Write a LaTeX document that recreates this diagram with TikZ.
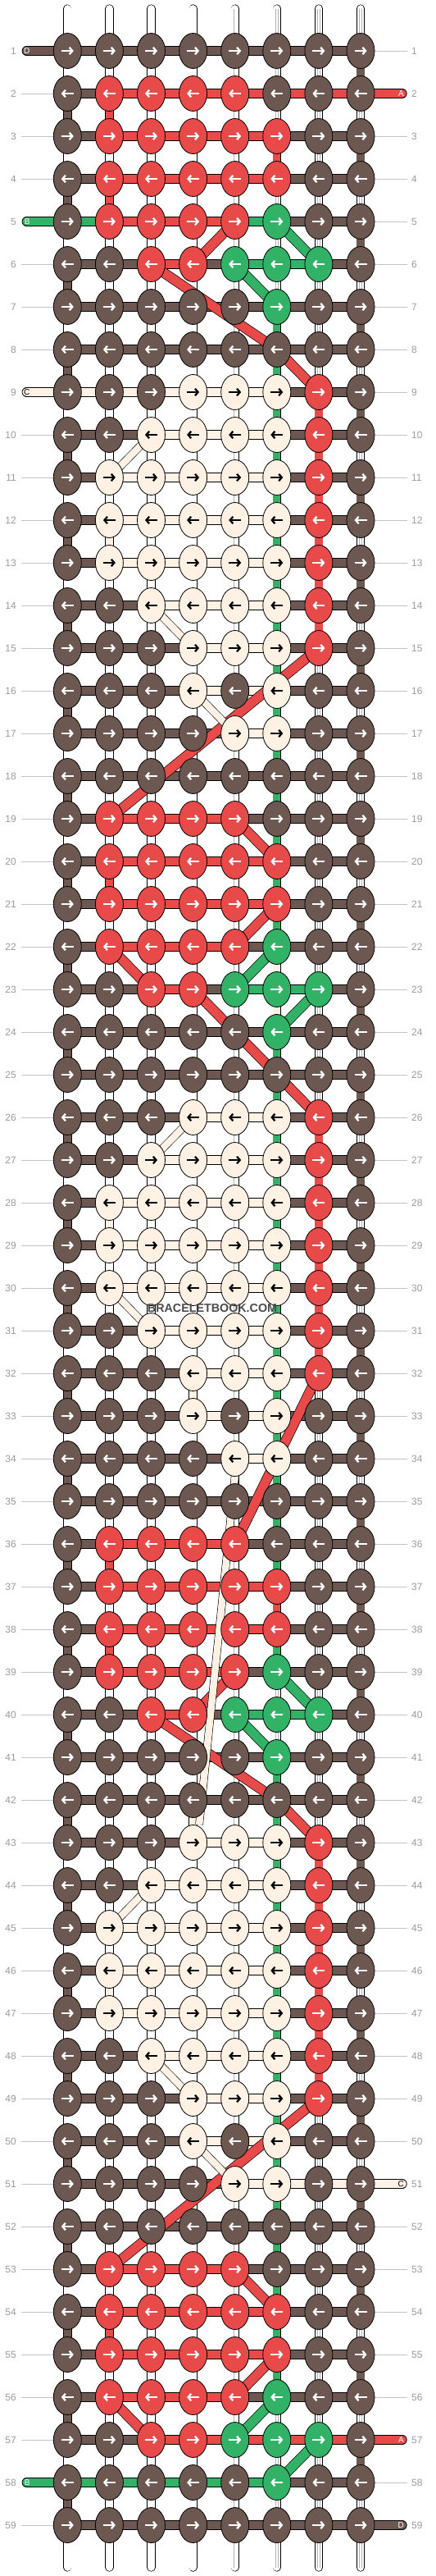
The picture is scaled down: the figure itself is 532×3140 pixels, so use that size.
\documentclass[tikz,border=0pt]{standalone}
\usepackage{fontspec}
\setmainfont{Liberation Sans}
\usetikzlibrary{shapes.geometric,arrows.meta}
\definecolor{B}{HTML}{6C5850}
\definecolor{R}{HTML}{E84A4A}
\definecolor{G}{HTML}{32B266}
\definecolor{C}{HTML}{FFF1E4}
\definecolor{aB}{HTML}{FFFFFF}
\definecolor{aR}{HTML}{FFFFFF}
\definecolor{aG}{HTML}{FFFFFF}
\definecolor{aC}{HTML}{000000}
\definecolor{lblgray}{HTML}{9A9A9A}
\definecolor{linegray}{HTML}{C4C4C4}
\definecolor{wmgray}{HTML}{4A4A4A}
\pgfdeclarelayer{strands}
\pgfdeclarelayer{vsegs}
\pgfdeclarelayer{hsegs}
\pgfdeclarelayer{diags}
\pgfsetlayers{strands,vsegs,hsegs,diags,main}
\tikzset{
  knot/.style={ellipse, draw=black, line width=0.8pt, minimum width=34pt, minimum height=43pt, inner sep=0pt},
  arr/.style={line width=2.3pt, -{Straight Barb[length=3.6pt,width=8.5pt]}},
  seg/.style={draw=black, line width=0.7pt, double distance=10.3pt},
  vseg/.style={draw=black, line width=0.7pt, double distance=9.2pt},
  vB/.style={vseg, double=B}, vR/.style={vseg, double=R}, vG/.style={vseg, double=G}, vC/.style={vseg, double=C}, vW/.style={},
  strand/.style={draw=black, line width=0.7pt, double=white, double distance=8.8pt, line cap=round},
  strandin/.style={draw=black!30, line width=0.5pt, double=white, double distance=2.4pt},
  dgR/.style={draw=black, line width=0.7pt, double=R, double distance=11pt},
  dgG/.style={draw=black, line width=0.7pt, double=G, double distance=11pt},
  dgC/.style={draw=black, line width=0.6pt, double=C, double distance=8.5pt},
  lbl/.style={text=lblgray, font=\fontsize{12}{14}\selectfont, inner sep=0pt},
  gline/.style={draw=linegray, line width=0.9pt},
  tab/.style={seg, line cap=round},
  tablbl/.style={font=\fontsize{10}{12}\selectfont, inner sep=0pt},
}
\begin{document}
\begin{tikzpicture}[x=1pt,y=-1pt]
\useasboundingbox (0,0) rectangle (532,3140);
% ---------------- knots
\foreach \ri/\cols in {
1/{B,B,B,B,B,B,B,B},
2/{B,R,R,R,R,B,B,B},
3/{B,R,R,R,R,R,B,B},
4/{B,R,R,R,R,R,B,B},
5/{B,R,R,R,R,G,B,B},
6/{B,B,R,R,G,G,G,B},
7/{B,B,B,B,B,G,B,B},
8/{B,B,B,B,B,B,B,B},
9/{B,B,B,C,C,C,R,B},
10/{B,B,C,C,C,C,R,B},
11/{B,C,C,C,C,C,R,B},
12/{B,C,C,C,C,C,R,B},
13/{B,C,C,C,C,C,R,B},
14/{B,B,C,C,C,C,R,B},
15/{B,B,B,C,C,C,R,B},
16/{B,B,B,C,B,C,B,B},
17/{B,B,B,B,C,C,B,B},
18/{B,B,B,B,B,B,B,B},
19/{B,R,R,R,R,B,B,B},
20/{B,R,R,R,R,R,B,B},
21/{B,R,R,R,R,R,B,B},
22/{B,R,R,R,R,G,B,B},
23/{B,B,R,R,G,G,G,B},
24/{B,B,B,B,B,G,B,B},
25/{B,B,B,B,B,B,B,B},
26/{B,B,B,C,C,C,R,B},
27/{B,B,C,C,C,C,R,B},
28/{B,C,C,C,C,C,R,B},
29/{B,C,C,C,C,C,R,B},
30/{B,C,C,C,C,C,R,B},
31/{B,B,C,C,C,C,R,B},
32/{B,B,B,C,C,C,R,B},
33/{B,B,B,C,B,C,B,B},
34/{B,B,B,B,C,C,B,B},
35/{B,B,B,B,B,B,B,B},
36/{B,R,R,R,R,B,B,B},
37/{B,R,R,R,R,R,B,B},
38/{B,R,R,R,R,R,B,B},
39/{B,R,R,R,R,G,B,B},
40/{B,B,R,R,G,G,G,B},
41/{B,B,B,B,B,G,B,B},
42/{B,B,B,B,B,B,B,B},
43/{B,B,B,C,C,C,R,B},
44/{B,B,C,C,C,C,R,B},
45/{B,C,C,C,C,C,R,B},
46/{B,C,C,C,C,C,R,B},
47/{B,C,C,C,C,C,R,B},
48/{B,B,C,C,C,C,R,B},
49/{B,B,B,C,C,C,R,B},
50/{B,B,B,C,B,C,B,B},
51/{B,B,B,B,C,C,B,B},
52/{B,B,B,B,B,B,B,B},
53/{B,R,R,R,R,B,B,B},
54/{B,R,R,R,R,R,B,B},
55/{B,R,R,R,R,R,B,B},
56/{B,R,R,R,R,G,B,B},
57/{B,B,R,R,G,G,G,B},
58/{B,B,B,B,B,G,B,B},
59/{B,B,B,B,B,B,B,B}}{
  \pgfmathsetmacro\yy{62+52*(\ri-1)}
  \pgfmathsetmacro\sg{1-2*mod(\ri+1,2)}
  \foreach \kk [count=\ci] in \cols {
    \pgfmathsetmacro\xx{82.3+51.1*(\ci-1)}
    \node[knot, fill=\kk] (k\ri-\ci) at (\xx,\yy) {};
    \draw[arr, draw=a\kk] ([xshift={-7.5*\sg}]k\ri-\ci.center) -- ([xshift={7.5*\sg}]k\ri-\ci.center);
  }
  \node[lbl, anchor=east] (ll\ri) at (20,\yy) {\ri};
  \node[lbl, anchor=west] (lr\ri) at (502,\yy) {\ri};
  \coordinate (gl\ri) at (26,\yy);
  \coordinate (gr\ri) at (497,\yy);
}
% ---------------- strands and grey lines
\begin{pgfonlayer}{strands}
\foreach \ci in {1,...,8}{
  \pgfmathsetmacro\xx{82.3+51.1*(\ci-1)}
  \coordinate (top\ci) at (\xx,10.5);
  \coordinate (bot\ci) at (\xx,3129.5);
  \draw[strand] (top\ci) -- (bot\ci);
  \draw[strandin] (top\ci) -- (bot\ci);
}
\foreach \ri in {2,3,4,6,7,8,10,11,...,57,59}{
  \draw[gline] (gl\ri) -- (k\ri-1.center);
}
\foreach \ri in {1,3,4,...,50,52,53,...,56,58}{
  \draw[gline] (k\ri-8.center) -- (gr\ri);
}
\end{pgfonlayer}
% ---------------- vertical coloured segments
\begin{pgfonlayer}{vsegs}
\foreach \ri/\cols in {
1/{W,W,W,W,W,W,W,B},
2/{B,R,W,W,W,W,W,W},
3/{W,W,W,W,W,R,W,B},
4/{B,R,W,W,W,W,W,W},
5/{W,W,W,W,W,W,W,B},
6/{B,W,W,W,W,W,W,W},
7/{W,W,W,W,W,G,W,B},
8/{B,W,W,W,W,G,W,W},
9/{W,W,W,W,W,G,R,B},
10/{B,W,W,W,W,G,R,W},
11/{W,W,W,W,W,G,R,B},
12/{B,C,W,W,W,G,R,W},
13/{W,W,W,W,W,G,R,B},
14/{B,W,W,W,W,G,R,W},
15/{W,W,W,W,W,G,W,B},
16/{B,W,W,W,W,G,W,W},
17/{W,W,W,W,W,G,W,B},
18/{B,W,W,W,W,G,W,W},
19/{W,W,W,W,W,G,W,B},
20/{B,R,W,W,W,G,W,W},
21/{W,W,W,W,W,G,W,B},
22/{B,W,W,W,W,C,W,W},
23/{W,W,W,W,W,C,W,B},
24/{B,W,W,W,W,G,W,W},
25/{W,W,W,W,W,G,W,B},
26/{B,W,W,W,W,G,R,W},
27/{W,W,W,W,W,G,R,B},
28/{B,C,W,W,W,G,R,W},
29/{W,W,W,W,W,G,R,B},
30/{B,W,W,W,W,G,R,W},
31/{W,W,W,W,W,G,R,B},
32/{B,W,W,C,W,G,W,W},
33/{W,W,W,W,W,G,W,B},
34/{B,W,W,W,W,G,W,W},
35/{W,W,W,W,W,G,W,B},
36/{B,R,W,W,W,G,W,W},
37/{W,W,W,W,W,R,W,B},
38/{B,R,W,W,W,G,W,W},
39/{W,W,W,W,W,W,W,B},
40/{B,W,W,W,W,W,W,W},
41/{W,W,W,W,W,G,W,B},
42/{B,W,W,C,W,G,W,W},
43/{W,W,W,W,W,G,R,B},
44/{B,W,W,W,W,G,R,W},
45/{W,W,W,W,W,G,R,B},
46/{B,C,W,W,W,G,R,W},
47/{W,W,W,W,W,G,R,B},
48/{B,W,W,W,W,G,R,W},
49/{W,W,W,W,W,G,W,B},
50/{B,W,W,W,W,G,W,W},
51/{W,W,W,W,W,G,W,B},
52/{B,W,W,W,W,G,W,W},
53/{W,W,W,W,W,G,W,B},
54/{B,R,W,W,W,G,W,W},
55/{W,W,W,W,W,G,W,B},
56/{B,W,W,W,W,W,W,W},
57/{W,W,W,W,W,W,W,B},
58/{B,W,W,W,W,W,W,W}}{
  \pgfmathtruncatemacro\rn{\ri+1}
  \foreach \kk [count=\ci] in \cols {
    \path[v\kk] (k\ri-\ci.center) -- (k\rn-\ci.center);
  }
}
\end{pgfonlayer}
% ---------------- horizontal segments
\begin{pgfonlayer}{hsegs}
\foreach \ri/\cols in {
1/{B,B,B,B,B,B,B},
2/{B,R,R,R,R,R,R},
3/{B,R,R,R,R,B,B},
4/{B,R,R,R,R,B,B},
5/{G,R,R,R,G,B,B},
6/{B,B,R,B,G,G,B},
7/{B,B,B,B,B,B,B},
8/{B,B,B,B,B,B,B},
9/{C,C,C,C,C,B,B},
10/{B,B,C,C,C,B,B},
11/{B,C,C,C,C,B,B},
12/{B,C,C,C,C,B,B},
13/{B,C,C,C,C,B,B},
14/{B,B,C,C,C,B,B},
15/{B,B,B,C,C,B,B},
16/{B,B,B,C,C,B,B},
17/{B,B,B,B,C,B,B},
18/{B,B,B,B,B,B,B},
19/{B,R,R,R,B,B,B},
20/{B,R,R,R,R,B,B},
21/{B,R,R,R,R,B,B},
22/{B,R,R,R,B,B,B},
23/{B,B,R,B,G,G,B},
24/{B,B,B,B,B,B,B},
25/{B,B,B,B,B,B,B},
26/{B,B,B,C,C,B,B},
27/{B,B,C,C,C,B,B},
28/{B,C,C,C,C,B,B},
29/{B,C,C,C,C,B,B},
30/{B,C,C,C,C,B,B},
31/{B,B,C,C,C,B,B},
32/{B,B,B,C,C,B,B},
33/{B,B,B,C,C,B,B},
34/{B,B,B,B,C,B,B},
35/{B,B,B,B,B,B,B},
36/{B,R,R,R,B,B,B},
37/{B,R,R,R,R,B,B},
38/{B,R,R,R,R,B,B},
39/{B,R,R,R,B,B,B},
40/{B,B,R,B,G,G,B},
41/{B,B,B,B,B,B,B},
42/{B,B,B,B,B,B,B},
43/{B,B,B,C,C,B,B},
44/{B,B,C,C,C,B,B},
45/{B,C,C,C,C,B,B},
46/{B,C,C,C,C,B,B},
47/{B,C,C,C,C,B,B},
48/{B,B,C,C,C,B,B},
49/{B,B,B,C,C,B,B},
50/{B,B,B,C,C,B,B},
51/{B,B,B,B,C,C,C},
52/{B,B,B,B,B,B,B},
53/{B,R,R,R,B,B,B},
54/{B,R,R,R,R,B,B},
55/{B,R,R,R,R,B,B},
56/{B,R,R,R,B,B,B},
57/{B,B,R,R,R,R,R},
58/{G,G,G,G,G,B,B},
59/{B,B,B,B,B,B,B}}{
  \foreach \kk [count=\ci] in \cols {
    \pgfmathtruncatemacro\cn{\ci+1}
    \draw[seg, double=\kk] (k\ri-\ci.center) -- (k\ri-\cn.center);
  }
}
% tabs
\coordinate (tabL1) at (32.5,62);
\coordinate (tabL5) at (32.5,270);
\coordinate (tabL9) at (32.5,478);
\coordinate (tabL58) at (32.5,3026);
\coordinate (tabR2) at (490.8,114);
\coordinate (tabR51) at (490.8,2662);
\coordinate (tabR57) at (490.8,2974);
\coordinate (tabR59) at (490.8,3078);
\draw[tab, double=B] (tabL1) -- (k1-1.center);
\draw[tab, double=G] (tabL5) -- (k5-1.center);
\draw[tab, double=C] (tabL9) -- (k9-1.center);
\draw[tab, double=G] (tabL58) -- (k58-1.center);
\draw[tab, double=R] (k2-8.center) -- (tabR2);
\draw[tab, double=C] (k51-8.center) -- (tabR51);
\draw[tab, double=R] (k57-8.center) -- (tabR57);
\draw[tab, double=B] (k59-8.center) -- (tabR59);
\end{pgfonlayer}
% ---------------- diagonals
\begin{pgfonlayer}{diags}
\foreach \da/\db/\dc in {
5-5/6-4/R, 5-6/6-7/G, 6-3/8-6/R, 6-5/7-6/G, 8-6/9-7/R,
10-3/11-2/C, 14-3/15-4/C, 15-7/19-2/R, 16-4/17-5/C,
19-5/20-6/R, 21-6/22-5/R, 22-2/23-3/R, 22-6/23-5/G, 23-4/24-5/R, 23-7/24-6/G,
24-5/25-6/R, 25-6/26-7/R, 26-4/27-3/C, 30-2/31-3/C, 32-7/36-5/R,
39-5/40-4/R, 39-6/40-7/G, 40-3/42-6/R, 40-5/41-6/G, 42-6/43-7/R,
44-3/45-2/C, 48-3/49-4/C, 49-7/53-2/R, 50-4/51-5/C,
53-5/54-6/R, 55-6/56-5/R, 56-2/57-3/R, 56-6/57-5/G, 57-7/58-6/G}{
  \draw[dg\dc] (k\da.center) -- (k\db.center);
}
\draw[dgC] (k34-5.south) -- ([xshift=7.5pt]k43-4.north);
\end{pgfonlayer}
% tab letters
\node[tablbl, text=white] (tD1) at (32.7,62) {D};
\node[tablbl, text=white] (tB5) at (33.2,270) {B};
\node[tablbl, text=black] (tC9) at (32.7,478) {C};
\node[tablbl, text=white] (tB58) at (33.2,3026) {B};
\node[tablbl, text=white] (tA2) at (489.5,114) {A};
\node[tablbl, text=black] (tC51) at (489.2,2662) {C};
\node[tablbl, text=white] (tA57) at (489.5,2974) {A};
\node[tablbl, text=white] (tD59) at (489.3,3078) {D};
% watermark
\node[text=wmgray, font=\bfseries\fontsize{14.3}{16}\selectfont, inner sep=0pt] (wm) at (259,1595) {BRACELETBOOK.COM};
\end{tikzpicture}
\end{document}
